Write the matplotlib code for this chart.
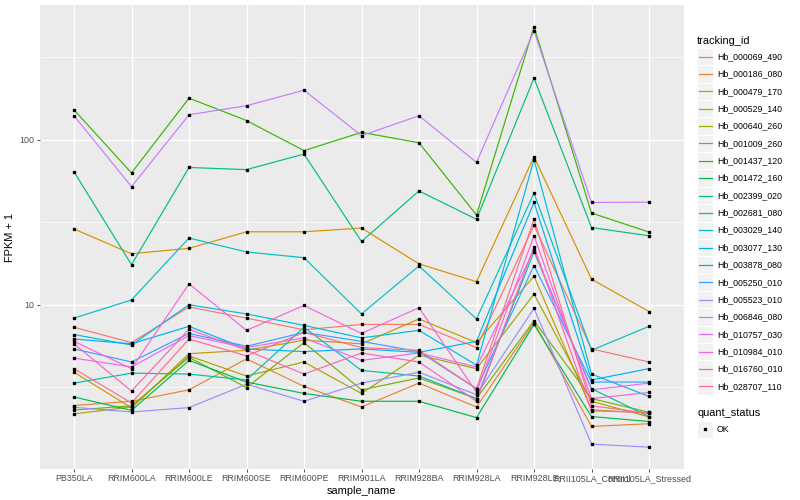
import matplotlib
matplotlib.use('Agg')
import matplotlib.pyplot as plt
from matplotlib.patches import Rectangle
from matplotlib.lines import Line2D
from matplotlib.ticker import FixedLocator, NullFormatter

plt.rcParams['font.family'] = ['Liberation Sans', 'DejaVu Sans']

samples = ['PB350LA', 'RRIM600LA', 'RRIM600LE', 'RRIM600SE', 'RRIM600PE',
           'RRIM901LA', 'RRIM928BA', 'RRIM928LA', 'RRIM928LE',
           'RRII105LA_Control', 'RRII105LA_Stressed']

tracking_ids = ['Hb_000069_490', 'Hb_000186_080', 'Hb_000479_170', 'Hb_000529_140',
                'Hb_000640_260', 'Hb_001009_260', 'Hb_001437_120', 'Hb_001472_160',
                'Hb_002399_020', 'Hb_002681_080', 'Hb_003029_140', 'Hb_003077_130',
                'Hb_003878_080', 'Hb_005250_010', 'Hb_005523_010', 'Hb_006846_080',
                'Hb_010757_030', 'Hb_010984_010', 'Hb_016760_010', 'Hb_028707_110']

# FPKM + 1 per sample, one list per gene
hb_000069_490 = [7.3, 5.9, 9.7, 8.3, 7.05, 7.6, 7.6, 5.5, 30.3, 5.4, 4.5]
hb_000186_080 = [2.45, 2.6, 3.05, 4.7, 3.2, 2.4, 3.35, 2.4, 7.8, 1.83, 1.9]
hb_000479_170 = [28.8, 20.4, 22.0, 27.7, 27.7, 29.2, 17.7, 13.8, 79.0, 14.3, 9.1]
hb_000529_140 = [3.9, 2.37, 5.05, 5.3, 6.1, 5.8, 8.2, 5.9, 14.9, 2.31, 2.2]
hb_000640_260 = [2.18, 2.4, 4.9, 3.7, 4.5, 2.9, 4.95, 4.1, 11.6, 2.6, 2.09]
hb_001009_260 = [2.3, 2.44, 4.8, 3.15, 5.9, 3.05, 3.6, 2.7, 8.0, 2.7, 2.23]
hb_001437_120 = [152, 63, 179, 131, 86, 111, 96, 35, 486, 36, 27.6]
hb_001472_160 = [2.76, 2.29, 4.6, 3.4, 2.9, 2.6, 2.6, 2.07, 7.6, 2.1, 1.96]
hb_002399_020 = [64, 17.5, 68, 66, 82, 24.2, 49, 33, 237, 29.4, 26.2]
hb_002681_080 = [3.35, 3.85, 3.8, 3.5, 7.3, 4.0, 3.7, 2.7, 21.0, 3.1, 2.1]
hb_003029_140 = [8.3, 10.7, 25.4, 20.9, 19.3, 8.8, 17.2, 8.2, 47.5, 5.3, 7.4]
hb_003077_130 = [6.6, 5.7, 10.0, 8.8, 7.5, 6.3, 7.0, 4.3, 76.0, 3.8, 2.78]
hb_003878_080 = [6.2, 5.8, 7.4, 5.4, 5.2, 5.4, 5.15, 6.0, 41.7, 3.5, 4.1]
hb_005250_010 = [5.4, 4.5, 6.7, 5.6, 6.8, 6.0, 5.2, 3.1, 17.3, 3.4, 3.4]
hb_005523_010 = [2.39, 2.24, 2.38, 3.3, 2.6, 3.35, 3.9, 2.85, 9.5, 1.43, 1.37]
hb_006846_080 = [140, 52, 142, 161, 200, 106, 140, 73, 458, 41.7, 41.9]
hb_010757_030 = [4.75, 4.2, 6.5, 5.5, 6.3, 4.6, 5.1, 4.2, 21.5, 3.05, 3.35]
hb_010984_010 = [6.0, 4.1, 13.4, 7.0, 9.9, 6.7, 9.6, 2.95, 26.2, 2.7, 2.94]
hb_016760_010 = [5.8, 3.0, 7.1, 5.3, 3.8, 5.1, 4.5, 2.6, 22.5, 2.27, 2.23]
hb_028707_110 = [4.1, 2.54, 6.2, 4.9, 6.8, 5.5, 5.3, 3.1, 33.0, 2.44, 2.2]

series = [hb_000069_490, hb_000186_080, hb_000479_170, hb_000529_140, hb_000640_260,
          hb_001009_260, hb_001437_120, hb_001472_160, hb_002399_020, hb_002681_080,
          hb_003029_140, hb_003077_130, hb_003878_080, hb_005250_010, hb_005523_010,
          hb_006846_080, hb_010757_030, hb_010984_010, hb_016760_010, hb_028707_110]

palette = ['#F8766D', '#EA8331', '#D89000', '#C09B00', '#A3A500', '#7CAE00', '#39B600',
           '#00BB4E', '#00BF7D', '#00C1A3', '#00BFC4', '#00BAE0', '#00B0F6', '#35A2FF',
           '#9590FF', '#C77CFF', '#E76BF3', '#FA62DB', '#FF62BC', '#FF6C91']

W, H = 800, 500
fig = plt.figure(figsize=(8, 5), dpi=100)
fig.patch.set_facecolor('white')

pl, pr, pt, pb = 39.5, 683.5, 5, 469
ax = fig.add_axes([pl / W, 1 - pb / H, (pr - pl) / W, (pb - pt) / H])
ax.set_facecolor('#EBEBEB')
for s in ax.spines.values():
    s.set_visible(False)

xs = list(range(len(samples)))
for vals, col in zip(series, palette):
    ax.plot(xs, vals, color=col, lw=0.85, zorder=3)
for vals in series:
    ax.plot(xs, vals, linestyle='none', marker='s', markersize=1.9,
            color='black', zorder=4)

ax.set_yscale('log')
ax.set_ylim(1.01, 657)
ax.set_xlim(-0.6, len(samples) - 1 + 0.6)
ax.yaxis.set_major_locator(FixedLocator([10, 100]))
ax.yaxis.set_minor_locator(FixedLocator([10 ** 0.5, 10 ** 1.5, 10 ** 2.5]))
ax.yaxis.set_minor_formatter(NullFormatter())
ax.set_yticklabels(['10', '100'])
ax.set_xticks(xs)
ax.set_xticklabels(samples)

ax.grid(True, which='major', color='white', lw=1.0, zorder=0)
ax.grid(True, which='minor', axis='y', color='white', lw=0.5, zorder=0)
ax.set_axisbelow(True)
ax.tick_params(axis='both', which='major', length=2.2, width=0.6, color='#333333',
               labelsize=6.4, labelcolor='#4D4D4D', pad=1.5)
ax.tick_params(axis='y', which='minor', length=0)

ax.set_xlabel('sample_name', fontsize=7.9, labelpad=2, color='black')
ax.set_ylabel('FPKM + 1', fontsize=7.9, labelpad=3, color='black')


def fx(x):
    return x / W


def fy(y):
    return 1 - y / H


# legend: tracking_id
fig.text(fx(697), fy(40.7), 'tracking_id', fontsize=7.9, va='center', ha='left')
step = 17.35
y0 = 56.7
for i, (name, col) in enumerate(zip(tracking_ids, palette)):
    yc = y0 + i * step
    fig.add_artist(Rectangle((fx(697), fy(yc + step / 2)), 16 / W, step / H,
                             transform=fig.transFigure, facecolor='#F2F2F2',
                             edgecolor='white', lw=0.8))
    fig.add_artist(Line2D([fx(698.5), fx(711.5)], [fy(yc), fy(yc)],
                          transform=fig.transFigure, color=col, lw=0.9))
    fig.text(fx(717), fy(yc), name, fontsize=6.3, va='center', ha='left')

# legend: quant_status
fig.text(fx(697), fy(412.7), 'quant_status', fontsize=7.9, va='center', ha='left')
fig.add_artist(Rectangle((fx(697), fy(429.3 + step / 2)), 16 / W, step / H,
                         transform=fig.transFigure, facecolor='#F2F2F2',
                         edgecolor='white', lw=0.8))
fig.add_artist(Line2D([fx(705)], [fy(429.3)], transform=fig.transFigure,
                      marker='s', markersize=1.9, color='black', linestyle='none'))
fig.text(fx(717), fy(429.3), 'OK', fontsize=6.3, va='center', ha='left')

fig.savefig('out.png', dpi=100)
